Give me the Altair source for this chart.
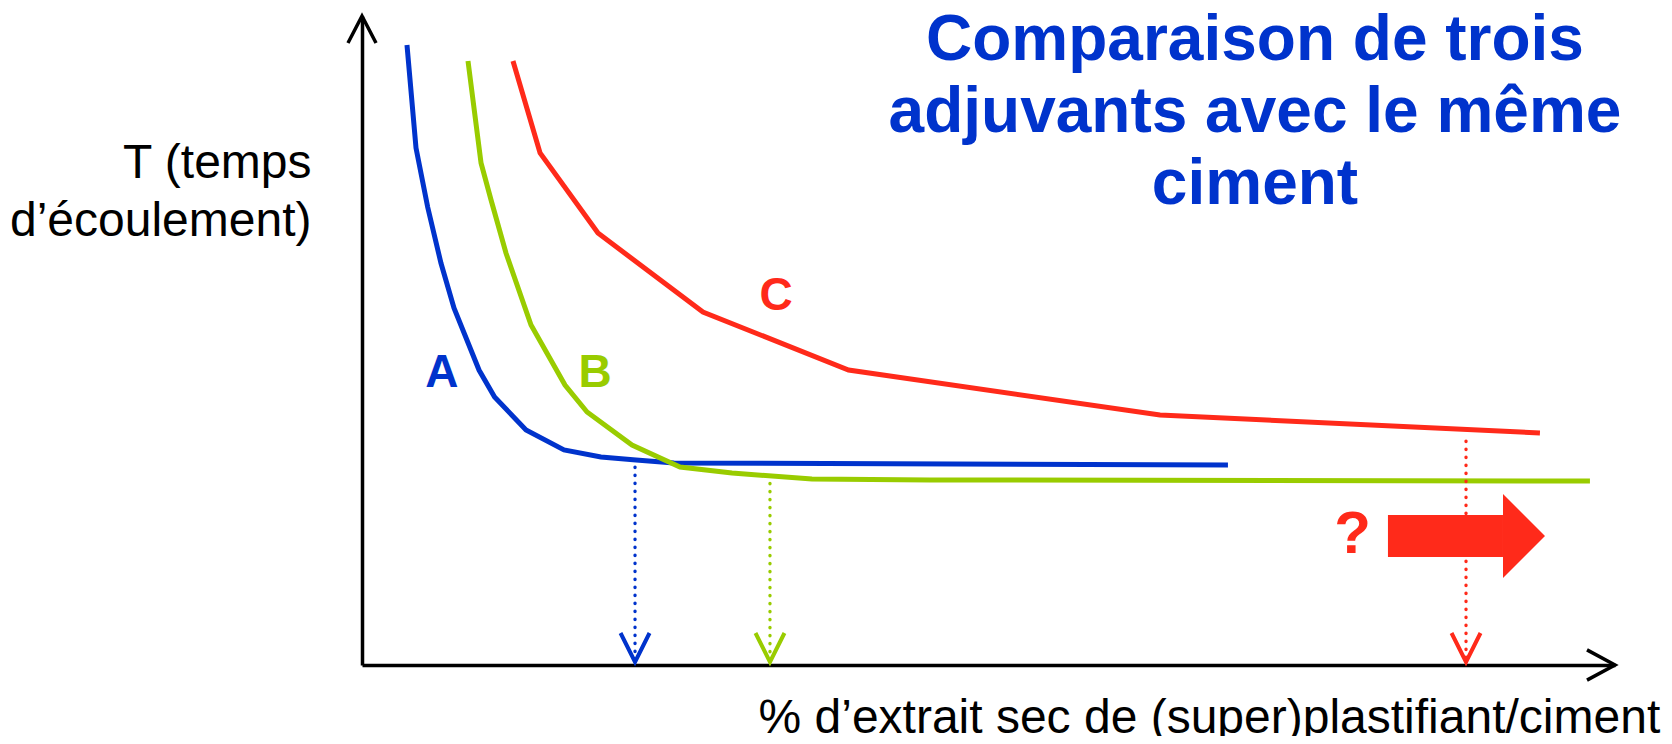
import altair as alt
import pandas as pd

# ---- data (schematic units) ----
series_names = ["A", "B", "C"]
series_colors = ["#0033CC", "#99CC00", "#FF2A1A"]

a_x = [0.359, 0.431, 0.524, 0.630, 0.734, 0.934, 1.058, 1.309, 1.612, 1.907, 2.187, 2.490, 6.911]
a_y = [9.553, 7.966, 7.057, 6.194, 5.501, 4.545, 4.129, 3.621, 3.313, 3.205, 3.159, 3.112, 3.082]

b_x = [0.846, 0.950, 1.030, 1.149, 1.349, 1.620, 1.796, 2.155, 2.538, 2.953, 3.591, 4.533, 9.800]
b_y = [9.307, 7.735, 7.165, 6.348, 5.239, 4.314, 3.898, 3.390, 3.051, 2.958, 2.866, 2.851, 2.835]

c_x = [1.205, 1.421, 1.883, 2.721, 3.883, 6.369, 9.401]
c_y = [9.307, 7.889, 6.656, 5.439, 4.545, 3.852, 3.575]

# optimal dosage read for each admixture (dotted arrows)
drop_x = [2.179, 3.256, 8.811]
drop_top = [3.05, 2.80, 3.45]
drop_bottom = [0.046, 0.046, 0.046]

# curve labels
label_text = ["A", "B", "C"]
label_x = [0.638, 1.860, 3.304]
label_y = [4.499, 4.499, 5.686]

# "?" and the big arrow (body + head)
q_text = ["?"]
q_x = [7.905]
q_y = [2.005]
body_x = [8.188]
body_x2 = [9.106]
body_y = [1.664]
body_y2 = [2.311]
head_x = [9.2735]
head_y = [1.988]

title_lines = ["Comparaison de trois", "adjuvants avec le même", "ciment"]
title_x = [7.127, 7.127, 7.127]
title_y = [9.322, 8.213, 7.103]

x_title = "% d’extrait sec de (super)plastifiant/ciment"
y_title = ["T (temps", "d’écoulement)"]

X_MAX = 10
Y_MAX = 10

# ---- tables ----
rows = []
for name, xs_, ys_ in zip(series_names, [a_x, b_x, c_x], [a_y, b_y, c_y]):
    for i, (xv, yv) in enumerate(zip(xs_, ys_)):
        rows.append({"serie": name, "i": i, "x": xv, "y": yv})
curves = pd.DataFrame(rows)

drops = pd.DataFrame({"serie": series_names, "x": drop_x, "y": drop_top, "y2": drop_bottom})
tips = pd.DataFrame({"serie": series_names, "x": drop_x, "y": drop_bottom})
labels = pd.DataFrame({"serie": label_text, "x": label_x, "y": label_y, "t": label_text})
qdf = pd.DataFrame({"x": q_x, "y": q_y, "t": q_text})
body = pd.DataFrame({"x": body_x, "x2": body_x2, "y": body_y, "y2": body_y2})
head = pd.DataFrame({"x": head_x, "y": head_y})
title_df = pd.DataFrame({"x": title_x, "y": title_y, "t": title_lines})
y_tip = pd.DataFrame({"x": [0], "y": [Y_MAX]})
x_tip = pd.DataFrame({"x": [X_MAX], "y": [0]})

FONT = "Liberation Sans"
RED = "#FF2A1A"

xs = alt.Scale(domain=[0, X_MAX], nice=False, zero=False)
ys = alt.Scale(domain=[0, Y_MAX], nice=False, zero=False)
cs = alt.Scale(domain=series_names, range=series_colors)

x_axis = alt.Axis(
    title=x_title, domain=True, domainColor="black", domainWidth=3.5,
    ticks=False, labels=False, grid=False,
    titleX=396, titleY=67, titleAlign="left", titleBaseline="alphabetic",
    titleFont=FONT, titleFontSize=48, titleFontWeight="normal", titleColor="black",
)
y_axis = alt.Axis(
    title=y_title, domain=True, domainColor="black", domainWidth=3.5,
    ticks=False, labels=False, grid=False,
    titleAngle=0, titleX=-51, titleY=161, titleAlign="right", titleBaseline="alphabetic",
    titleFont=FONT, titleFontSize=48, titleFontWeight="normal", titleColor="black",
    titleLineHeight=58,
)

X = lambda f="x": alt.X(f"{f}:Q", scale=xs, axis=x_axis)
Y = lambda f="y": alt.Y(f"{f}:Q", scale=ys, axis=y_axis)
C = alt.Color("serie:N", scale=cs, legend=None)

lines = alt.Chart(curves).mark_line(strokeWidth=5, strokeCap="butt", strokeJoin="miter").encode(
    x=X(), y=Y(), color=C, order="i:Q", detail="serie:N"
)

drop_rules = alt.Chart(drops).mark_rule(strokeWidth=3.3, strokeDash=[0.5, 7.5], strokeCap="round").encode(
    x=X(), y=Y(), y2="y2:Q", color=C
)

drop_heads = alt.Chart(tips).mark_point(
    shape="M-0.5,-1L0,0L0.5,-1", size=3364, filled=False, strokeWidth=4, opacity=1
).encode(x=X(), y=Y(), color=C)

axis_head_y = alt.Chart(y_tip).mark_point(
    shape="M-0.52,1L0,0L0.52,1", size=2916, filled=False, strokeWidth=3.5, color="black", opacity=1
).encode(x=X(), y=Y())

axis_head_x = alt.Chart(x_tip).mark_point(
    shape="M-1,-0.54L0,0L-1,0.54", size=3136, filled=False, strokeWidth=3.5, color="black", opacity=1
).encode(x=X(), y=Y())

arrow_body = alt.Chart(body).mark_rect(color=RED, opacity=1).encode(
    x=X(), x2="x2:Q", y=Y(), y2="y2:Q"
)

arrow_head = alt.Chart(head).mark_point(
    shape="M-0.5,-1L0.5,0L-0.5,1Z", size=7056, filled=True, color=RED, opacity=1, strokeWidth=0
).encode(x=X(), y=Y())

label_marks = alt.Chart(labels).mark_text(
    font=FONT, fontSize=46, fontWeight="bold", align="center", baseline="middle"
).encode(x=X(), y=Y(), text="t:N", color=C)

q_mark = alt.Chart(qdf).mark_text(
    font=FONT, fontSize=60, fontWeight="bold", align="center", baseline="middle", color=RED
).encode(x=X(), y=Y(), text="t:N")

title_mark = alt.Chart(title_df).mark_text(
    font=FONT, fontSize=64, fontWeight="bold", align="center", baseline="alphabetic",
    color="#0033CC"
).encode(x=X(), y=Y(), text="t:N")

chart = alt.layer(
    lines, drop_rules, drop_heads, axis_head_y, axis_head_x, arrow_body, arrow_head,
    label_marks, q_mark, title_mark
).properties(
    width=1253, height=649,
    autosize=alt.AutoSizeParams(type="none"),
    padding={"left": 354, "top": 8, "right": 49, "bottom": 71},
    background="white",
).configure_view(stroke=None)

chart.save("out.html", embed_options={"renderer": "svg", "actions": False})
